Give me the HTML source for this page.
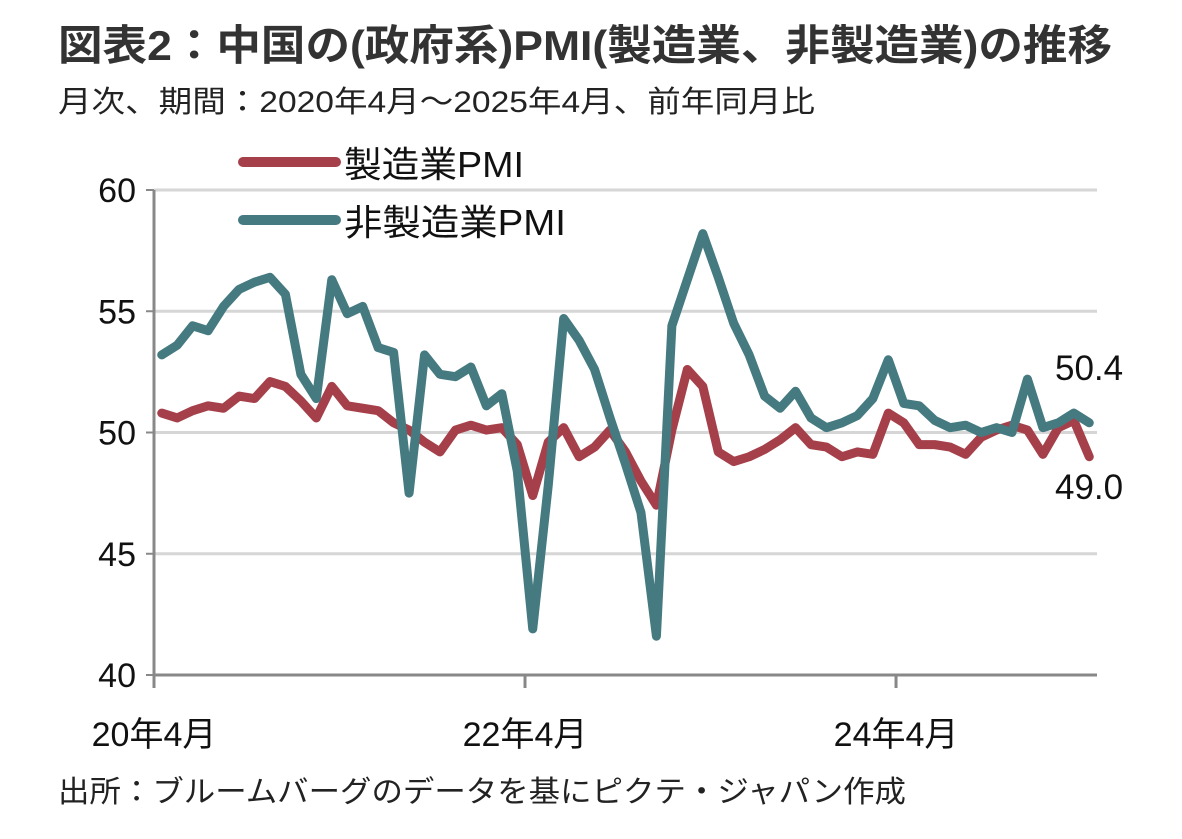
<!DOCTYPE html>
<html><head><meta charset="utf-8"><style>
body{margin:0;background:#fff;}
svg text{font-family:"Liberation Sans","Noto Sans CJK JP",sans-serif;}
</style></head><body>
<svg width="1182" height="834" xmlns="http://www.w3.org/2000/svg">
<text x="58" y="60" font-size="42" font-weight="bold" fill="#333" textLength="1054" lengthAdjust="spacingAndGlyphs">図表2：中国の(政府系)PMI(製造業、非製造業)の推移</text>
<text x="58" y="112" font-size="30" fill="#222" textLength="757" lengthAdjust="spacingAndGlyphs">月次、期間：2020年4月～2025年4月、前年同月比</text>
<g id="grid"></g>
<g id="axes"></g>
<g id="lines"></g>
<line x1="243" y1="162" x2="336" y2="162" stroke="#a5404a" stroke-width="10" stroke-linecap="round"/>
<text x="344" y="177" font-size="36" fill="#111" textLength="180" lengthAdjust="spacingAndGlyphs">製造業PMI</text>
<line x1="243" y1="220" x2="336" y2="220" stroke="#457a80" stroke-width="10" stroke-linecap="round"/>
<text x="344" y="235" font-size="36" fill="#111" textLength="222" lengthAdjust="spacingAndGlyphs">非製造業PMI</text>
<text x="1055" y="380" font-size="35" fill="#111">50.4</text>
<text x="1055" y="499" font-size="35" fill="#111">49.0</text>
<text x="58" y="802" font-size="30" fill="#222" textLength="848" lengthAdjust="spacingAndGlyphs">出所：ブルームバーグのデータを基にピクテ・ジャパン作成</text>
</svg>
<script>
const mfg=[50.8,50.6,50.9,51.1,51.0,51.5,51.4,52.1,51.9,51.3,50.6,51.9,51.1,51.0,50.9,50.4,50.1,49.6,49.2,50.1,50.3,50.1,50.2,49.5,47.4,49.6,50.2,49.0,49.4,50.1,49.2,48.0,47.0,50.1,52.6,51.9,49.2,48.8,49.0,49.3,49.7,50.2,49.5,49.4,49.0,49.2,49.1,50.8,50.4,49.5,49.5,49.4,49.1,49.8,50.1,50.3,50.1,49.1,50.2,50.5,49.0];
const nonMfg=[53.2,53.6,54.4,54.2,55.2,55.9,56.2,56.4,55.7,52.4,51.4,56.3,54.9,55.2,53.5,53.3,47.5,53.2,52.4,52.3,52.7,51.1,51.6,48.4,41.9,47.8,54.7,53.8,52.6,50.6,48.7,46.7,41.6,54.4,56.3,58.2,56.4,54.5,53.2,51.5,51.0,51.7,50.6,50.2,50.4,50.7,51.4,53.0,51.2,51.1,50.5,50.2,50.3,50.0,50.2,50.0,52.2,50.2,50.4,50.8,50.4];
const yTicks=[40,45,50,55,60];
const xTickLabels=["20年4月","22年4月","24年4月"];
const xTickIdx=[0,24,48];
const NS="http://www.w3.org/2000/svg";
const X0=154,X1=1097,Y40=675,Y60=190,N=mfg.length;
const step=(X1-X0)/N;
const xs=i=>X0+step*(i+0.5);
const ys=v=>Y40+(v-40)*(Y60-Y40)/20;
function mk(t,a,p){const e=document.createElementNS(NS,t);for(const k in a)e.setAttribute(k,a[k]);p.appendChild(e);return e;}
const grid=document.getElementById('grid'),axes=document.getElementById('axes'),lines=document.getElementById('lines');
yTicks.forEach(v=>{
 if(v>40){const g=mk('line',{x1:X0,x2:X1,y1:ys(v),y2:ys(v),stroke:'#d6d6d6','stroke-width':3},grid);
 
 }
 const tk=mk('line',{x1:X0-8,x2:X0,y1:ys(v),y2:ys(v),stroke:'#888','stroke-width':2},axes);
 
 
 const t=mk('text',{x:X0-18,y:ys(v)+12,'font-size':34,'text-anchor':'end',fill:'#111'},axes);t.textContent=v;
 
 
});
const ya=mk('line',{x1:X0,x2:X0,y1:Y60,y2:Y40,stroke:'#888','stroke-width':3},axes);


const xa=mk('line',{x1:X0,x2:X1,y1:Y40,y2:Y40,stroke:'#888','stroke-width':3},axes);


xTickIdx.forEach((idx,k)=>{
 const x=X0+step*idx;
 const tk=mk('line',{x1:x,x2:x,y1:Y40,y2:Y40+13,stroke:'#888','stroke-width':3},axes);
 
 
 const t=mk('text',{x:x,y:746,'font-size':34,'text-anchor':'middle',fill:'#111'},axes);t.textContent=xTickLabels[k];
 
 
});
function series(d,c,name){
 const p=mk('polyline',{points:d.map((v,i)=>xs(i)+','+ys(v)).join(' '),fill:'none',stroke:c,'stroke-width':9,'stroke-linejoin':'round','stroke-linecap':'round'},lines);
 
 
}
series(mfg,'#a5404a','manufacturing-pmi-line');
series(nonMfg,'#457a80','non-manufacturing-pmi-line');
</script>
</body></html>
